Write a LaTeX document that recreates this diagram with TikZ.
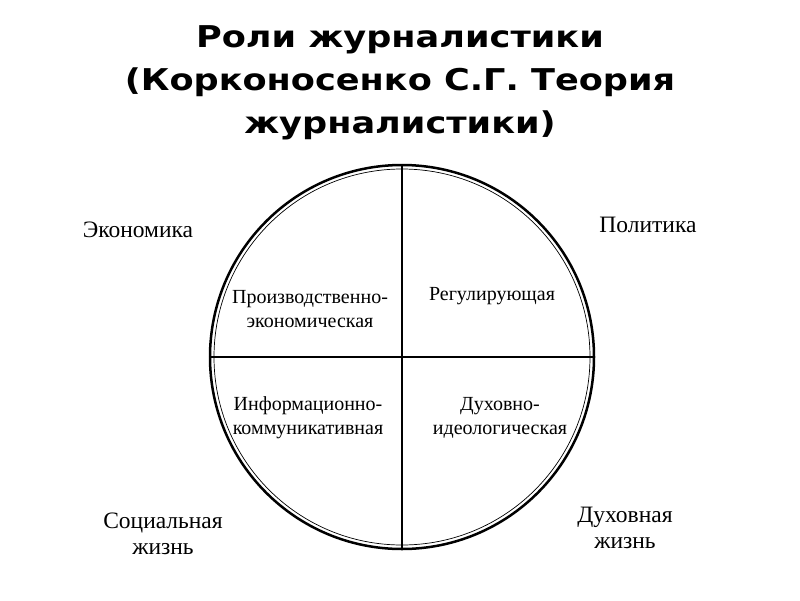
\documentclass[tikz,border=0pt]{standalone}
\usepackage{fontspec}
\setmainfont{Liberation Serif}
\newfontfamily\titlefont[FakeStretch=1.17]{DejaVu Sans}
\usetikzlibrary{positioning}

\begin{document}
\begin{tikzpicture}[
    x=1pt, y=-1pt,
    title/.style={font=\titlefont\bfseries\fontsize{30}{43}\selectfont, align=center},
    sphere/.style={font=\fontsize{23.5}{26}\selectfont, align=center},
    role/.style={font=\fontsize{20}{24}\selectfont, align=center},
    rim/.style={circle, draw=black, line width=2.5pt, minimum size=384pt, inner sep=0pt},
    innerrim/.style={circle, draw=black, line width=0.7pt, minimum size=376pt, inner sep=0pt},
    divider/.style={line width=1.3pt}
]
\useasboundingbox (0,0) rectangle (800,600);

% Title
\node[title] (title) at (400,83) {Роли журналистики\\(Корконосенко С.Г. Теория\\журналистики)};

% Circle
\node[rim] (circle) at (402,357) {};
\node[innerrim] (inner) at (circle.center) {};
\draw[divider] (circle.north) -- (circle.south);
\draw[divider] (circle.west) -- (circle.east);

% Roles
\node[role] (prod) at (310,309) {Производственно-\\экономическая};
\node[role] (reg) at (492,296) {Регулирующая};
\node[role] (info) at (308,418) {Информационно-\\коммуникативная};
\node[role] (ideo) at (500,418) {Духовно-\\идеологическая};

% Spheres
\node[sphere] (econ) at (138,230) {Экономика};
\node[sphere] (polit) at (648,225) {Политика};
\node[sphere] (social) at (163,534) {Социальная\\жизнь};
\node[sphere] (spirit) at (625,528) {Духовная\\жизнь};

\end{tikzpicture}
\end{document}
